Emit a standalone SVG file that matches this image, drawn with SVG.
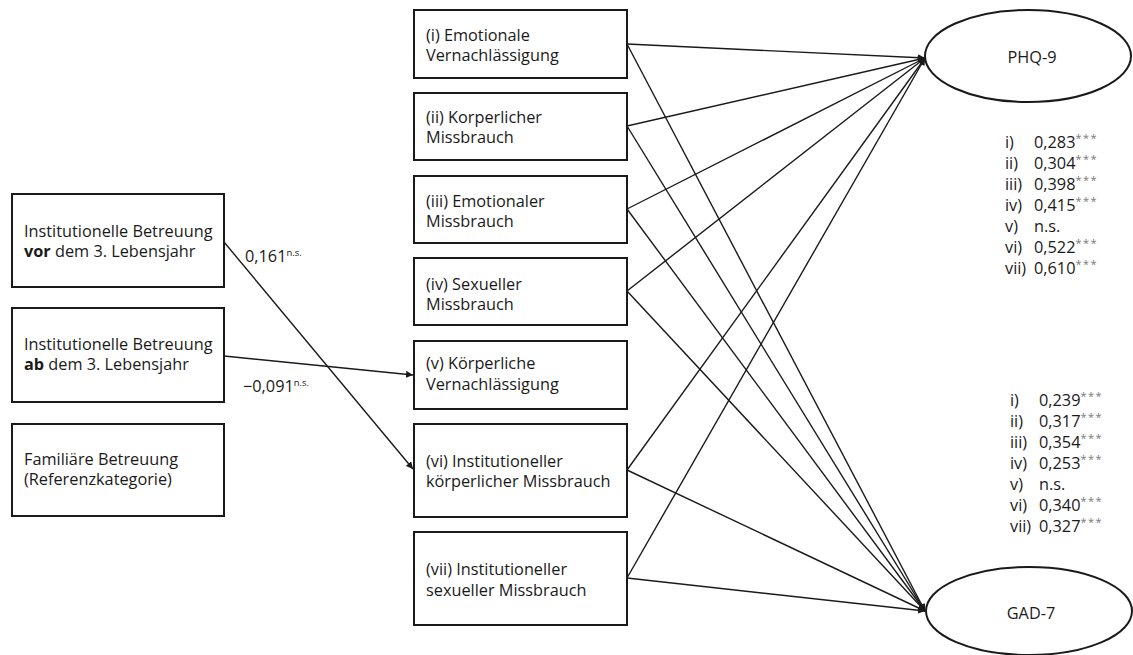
<svg xmlns="http://www.w3.org/2000/svg" width="1133" height="655" viewBox="0 0 1133 655">
<style>
text{font-family:"Open Sans","Noto Sans",sans-serif;font-size:16.3px;fill:#1a1a1a}
.box{fill:#fff;stroke:#1a1a1a;stroke-width:2}
.ell{fill:#fff;stroke:#1a1a1a;stroke-width:2}
.con{fill:none;stroke:#1a1a1a;stroke-width:1.4;marker-end:url(#ah)}
.sup{font-size:9.5px;fill:#1a1a1a}
.st{font-size:11px;fill:#777;letter-spacing:1.5px}
.b{font-weight:bold}
</style>
<defs>
<marker id="ah" viewBox="0 0 10 10" refX="10" refY="5" markerWidth="7" markerHeight="7" markerUnits="userSpaceOnUse" orient="auto">
<path d="M0,0 L10,5 L0,10 z" fill="#1a1a1a"/>
</marker>
</defs>
<g id="connectors">
<line class="con" x1="224" y1="242" x2="413" y2="469"/>
<line class="con" x1="224" y1="356" x2="413" y2="375"/>
<line class="con" x1="627" y1="44" x2="925" y2="58"/>
<line class="con" x1="627" y1="126" x2="925" y2="58"/>
<line class="con" x1="627" y1="209" x2="925" y2="58"/>
<line class="con" x1="627" y1="291" x2="925" y2="58"/>
<line class="con" x1="627" y1="470" x2="925" y2="58"/>
<line class="con" x1="627" y1="578" x2="925" y2="58"/>
<line class="con" x1="627" y1="44" x2="925" y2="611"/>
<line class="con" x1="627" y1="126" x2="925" y2="611"/>
<line class="con" x1="627" y1="209" x2="925" y2="611"/>
<line class="con" x1="627" y1="291" x2="925" y2="611"/>
<line class="con" x1="627" y1="470" x2="925" y2="611"/>
<line class="con" x1="627" y1="578" x2="925" y2="611"/>
</g>
<g id="lbl-vor"><text x="245" y="262">0,161<tspan class="sup" dy="-6">n.s.</tspan></text></g>
<g id="lbl-ab"><text x="243" y="392">−0,091<tspan class="sup" dy="-6">n.s.</tspan></text></g>
<g id="n-vor"><rect class="box" x="12" y="194" width="212" height="93"/><text x="24" y="237">Institutionelle Betreuung</text><text x="24" y="257"><tspan class="b">vor</tspan> dem 3. Lebensjahr</text></g>
<g id="n-ab"><rect class="box" x="12" y="308" width="212" height="94"/><text x="24" y="350">Institutionelle Betreuung</text><text x="24" y="370"><tspan class="b">ab</tspan> dem 3. Lebensjahr</text></g>
<g id="n-fam"><rect class="box" x="12" y="424" width="212" height="92"/><text x="24" y="465">Familiäre Betreuung</text><text x="24" y="485">(Referenzkategorie)</text></g>
<g id="n-i"><rect class="box" x="414" y="10" width="213" height="68"/><text x="426" y="41">(i) Emotionale</text><text x="426" y="61">Vernachlässigung</text></g>
<g id="n-ii"><rect class="box" x="414" y="93" width="213" height="67"/><text x="426" y="123">(ii) Korperlicher</text><text x="426" y="143">Missbrauch</text></g>
<g id="n-iii"><rect class="box" x="414" y="176" width="213" height="67"/><text x="426" y="207">(iii) Emotionaler</text><text x="426" y="227">Missbrauch</text></g>
<g id="n-iv"><rect class="box" x="414" y="258" width="213" height="67"/><text x="426" y="290">(iv) Sexueller</text><text x="426" y="310">Missbrauch</text></g>
<g id="n-v"><rect class="box" x="414" y="341" width="213" height="68"/><text x="426" y="369">(v) Körperliche</text><text x="426" y="390">Vernachlässigung</text></g>
<g id="n-vi"><rect class="box" x="414" y="424" width="213" height="93"/><text x="426" y="467">(vi) Institutioneller</text><text x="426" y="487">körperlicher Missbrauch</text></g>
<g id="n-vii"><rect class="box" x="414" y="532" width="213" height="93"/><text x="426" y="575">(vii) Institutioneller</text><text x="426" y="596">sexueller Missbrauch</text></g>
<g id="n-phq"><ellipse class="ell" cx="1028" cy="56" rx="103" ry="46"/><text x="1032" y="63" text-anchor="middle">PHQ-9</text></g>
<g id="n-gad"><ellipse class="ell" cx="1029" cy="611" rx="103" ry="44"/><text x="1031" y="619" text-anchor="middle">GAD-7</text></g>
<g id="coef-phq">
<text x="1005" y="148">i)</text><text x="1034" y="148">0,283<tspan class="st" dy="-6">***</tspan></text>
<text x="1005" y="169">ii)</text><text x="1034" y="169">0,304<tspan class="st" dy="-6">***</tspan></text>
<text x="1005" y="190">iii)</text><text x="1034" y="190">0,398<tspan class="st" dy="-6">***</tspan></text>
<text x="1005" y="211">iv)</text><text x="1034" y="211">0,415<tspan class="st" dy="-6">***</tspan></text>
<text x="1005" y="232">v)</text><text x="1034" y="232">n.s.</text>
<text x="1005" y="253">vi)</text><text x="1034" y="253">0,522<tspan class="st" dy="-6">***</tspan></text>
<text x="1005" y="274">vii)</text><text x="1034" y="274">0,610<tspan class="st" dy="-6">***</tspan></text>
</g>
<g id="coef-gad">
<text x="1010" y="406">i)</text><text x="1039" y="406">0,239<tspan class="st" dy="-6">***</tspan></text>
<text x="1010" y="427">ii)</text><text x="1039" y="427">0,317<tspan class="st" dy="-6">***</tspan></text>
<text x="1010" y="448">iii)</text><text x="1039" y="448">0,354<tspan class="st" dy="-6">***</tspan></text>
<text x="1010" y="469">iv)</text><text x="1039" y="469">0,253<tspan class="st" dy="-6">***</tspan></text>
<text x="1010" y="490">v)</text><text x="1039" y="490">n.s.</text>
<text x="1010" y="511">vi)</text><text x="1039" y="511">0,340<tspan class="st" dy="-6">***</tspan></text>
<text x="1010" y="532">vii)</text><text x="1039" y="532">0,327<tspan class="st" dy="-6">***</tspan></text>
</g>
</svg>
